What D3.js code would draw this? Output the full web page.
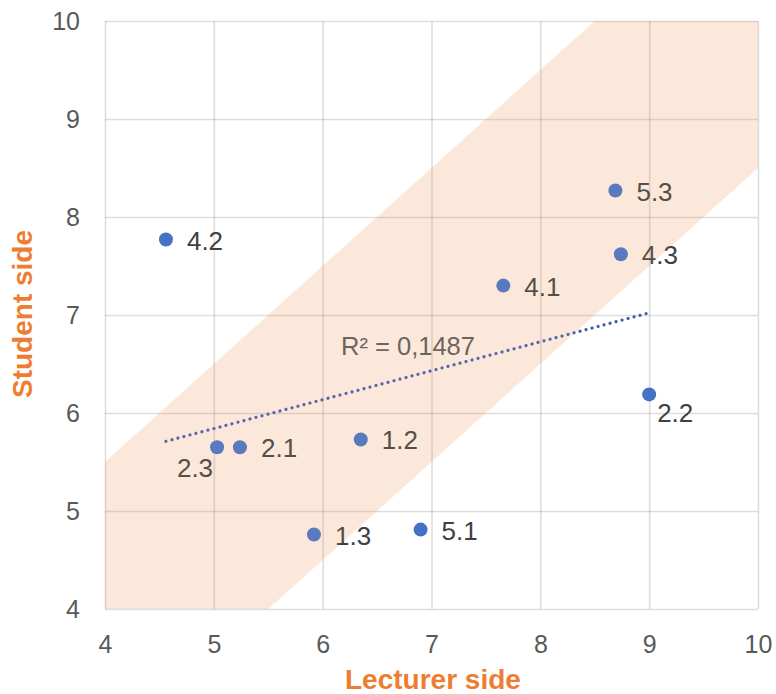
<!DOCTYPE html>
<html><head><meta charset="utf-8">
<script src="https://cdn.jsdelivr.net/npm/d3@7"></script>
<style>
html,body{margin:0;padding:0;background:#fff;}
svg{display:block;font-family:"Liberation Sans",Arial,sans-serif;}
</style></head>
<body>
<svg id="chart" width="776" height="694"></svg>
<script>
// Data
const labels = ["4.2","5.3","4.3","4.1","2.2","2.3","2.1","1.2","1.3","5.1"];
const lecturer = [4.56, 8.69, 8.74, 7.66, 9.00, 5.03, 5.24, 6.35, 5.92, 6.90];
const student  = [7.77, 8.27, 7.62, 7.30, 6.19, 5.65, 5.65, 5.73, 4.76, 4.81];
const xTicks = [4,5,6,7,8,9,10];
const yTicks = [4,5,6,7,8,9,10];
const bandWidth = 1.5; // band: student = lecturer ± 1.5
const r2Text = "R² = 0,1487";
const xTitle = "Lecturer side";
const yTitle = "Student side";

(function(){
const svg = d3.select("#chart");
const mL = 105, mR = 758, mT = 21, mB = 609;
const x = d3.scaleLinear().domain([4,10]).range([mL,mR]);
const y = d3.scaleLinear().domain([4,10]).range([mB,mT]);

// band polygon (clipped to plot)
const bandPts = [[4,4],[4,4+bandWidth],[10-bandWidth,10],[10,10],[10,10-bandWidth],[4+bandWidth,4]];
const bandPath = d3.line().x(d=>x(d[0])).y(d=>y(d[1]));
svg.append("path").attr("d", bandPath(bandPts)+"Z").attr("fill","#fdefe6");

// gridlines via axes
const gx = svg.append("g").attr("transform",`translate(0,${mB})`)
  .call(d3.axisBottom(x).tickValues(xTicks).tickSize(-(mB-mT)).tickPadding(26).tickFormat(d3.format("d")));
const gy = svg.append("g").attr("transform",`translate(${mL},0)`)
  .call(d3.axisLeft(y).tickValues(yTicks).tickSize(-(mR-mL)).tickPadding(25).tickFormat(d3.format("d")));
[gx,gy].forEach(g=>{
  g.select(".domain").remove();
  g.selectAll(".tick line").attr("stroke","rgba(0,0,0,0.13)").attr("stroke-width",1.6);
  g.selectAll(".tick text").attr("fill","#595959").attr("font-size",25).attr("font-family","Liberation Sans, Arial, sans-serif");
});

// trendline (least squares)
const n = lecturer.length;
const mx = d3.mean(lecturer), my = d3.mean(student);
let sxy=0, sxx=0;
for (let i=0;i<n;i++){ sxy += (lecturer[i]-mx)*(student[i]-my); sxx += (lecturer[i]-mx)**2; }
const slope = sxy/sxx, icpt = my - slope*mx;
const x0 = d3.min(lecturer), x1 = d3.max(lecturer);
svg.append("line")
  .attr("x1",x(x0)).attr("y1",y(icpt+slope*x0))
  .attr("x2",x(x1)).attr("y2",y(icpt+slope*x1))
  .attr("stroke","#3f5fae").attr("stroke-width",3.2)
  .attr("stroke-linecap","round").attr("stroke-dasharray","0.01 6.2");

svg.append("text").attr("x",341).attr("y",355).attr("fill","#595959")
  .attr("font-size",25.5).text(r2Text);

// points
const pts = labels.map((l,i)=>({l, x:lecturer[i], y:student[i]}));
svg.append("g").selectAll("circle").data(pts).join("circle")
  .attr("cx",d=>x(d.x)).attr("cy",d=>y(d.y)).attr("r",7).attr("fill","#4472c4");

const off = {"2.2":{dx:8,dy:28,anchor:"start"},"2.3":{dx:-4,dy:30,anchor:"end"}};
svg.append("g").selectAll("text").data(pts).join("text")
  .attr("x",d=>x(d.x)+(off[d.l]?off[d.l].dx:21))
  .attr("y",d=>y(d.y)+(off[d.l]?off[d.l].dy:10))
  .attr("text-anchor",d=>off[d.l]?off[d.l].anchor:"start")
  .attr("font-size",26).attr("fill","#404040").text(d=>d.l);

// translucent band overlay to tint marks inside
svg.append("path").attr("d", bandPath(bandPts)+"Z").attr("fill","#f4b183").attr("opacity",0.12);

// axis titles
svg.append("text").attr("x",345).attr("y",689).attr("text-anchor","start")
  .attr("font-size",28).attr("font-weight","bold").attr("fill","#ed7d31").text(xTitle);
svg.append("text").attr("transform",`translate(32,314) rotate(-90)`).attr("text-anchor","middle")
  .attr("font-size",28).attr("font-weight","bold").attr("fill","#ed7d31").text(yTitle);
})();
</script>
</body></html>
